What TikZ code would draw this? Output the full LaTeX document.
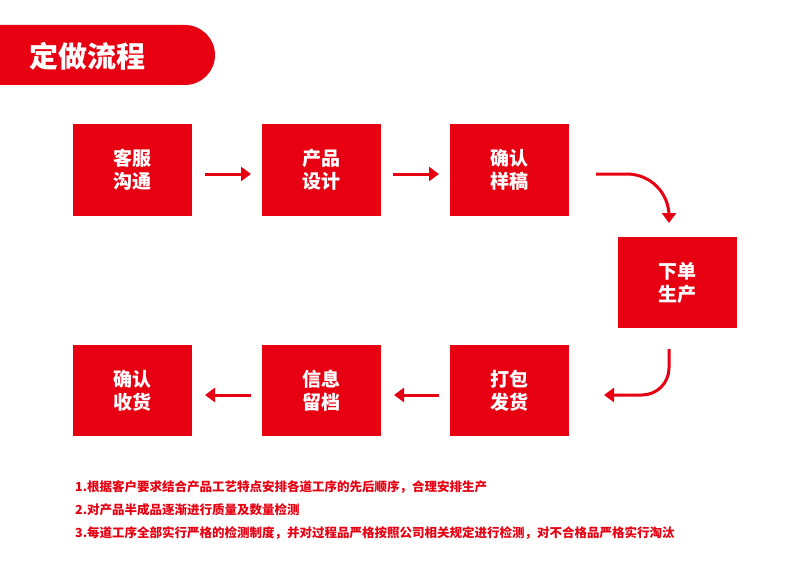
\documentclass[tikz,border=0pt]{standalone}
\usepackage{fontspec}
\setmainfont{Noto Sans CJK SC}
\usetikzlibrary{arrows.meta}
\definecolor{rd}{HTML}{E60012}
\begin{document}
\begin{tikzpicture}[x=1pt,y=-1pt,
 box/.style={fill=rd,minimum width=119pt,minimum height=91pt,text=white,font=\fontsize{19}{23}\selectfont\bfseries,align=center,inner sep=0},
 arr/.style={draw=rd,line width=3pt,-{Triangle[width=14pt,length=10pt]}},
 note/.style={anchor=west,text=rd,font=\fontsize{12.5}{14}\selectfont\bfseries,inner sep=0}]
\useasboundingbox (0,0) rectangle (800,567);
\fill[rd,rounded corners=30pt] (-40,25) -- (215,25) -- (215,85) -- (-40,85) -- cycle;
\node[text=white,font=\fontsize{29}{32}\selectfont\bfseries,anchor=west] (title) at (26,56) {定做流程};
\node[box] (b1) at (132.5,170) {客服\\沟通};
\node[box] (b2) at (321.5,170) {产品\\设计};
\node[box] (b3) at (509,170) {确认\\样稿};
\node[box] (b4) at (677.5,282.5) {下单\\生产};
\node[box] (b5) at (132.5,390.5) {确认\\收货};
\node[box] (b6) at (321.5,390.5) {信息\\留档};
\node[box] (b7) at (509,390.5) {打包\\发货};
\draw[arr] (205,174) -- (251,174);
\draw[arr] (393,174) -- (439,174);
\draw[arr,rounded corners=42pt] (596,174) -- (669,174) -- (669,223);
\draw[arr,rounded corners=27pt] (669,349) -- (669,395) -- (604,395);
\draw[arr] (439,395) -- (394,395);
\draw[arr] (251,395) -- (205,395);
\node[note] (n1) at (75,487) {1.根据客户要求结合产品工艺特点安排各道工序的先后顺序，合理安排生产};
\node[note] (n2) at (75,510) {2.对产品半成品逐渐进行质量及数量检测};
\node[note] (n3) at (75,533) {3.每道工序全部实行严格的检测制度，并对过程品严格按照公司相关规定进行检测，对不合格品严格实行淘汰};
\end{tikzpicture}
\end{document}
